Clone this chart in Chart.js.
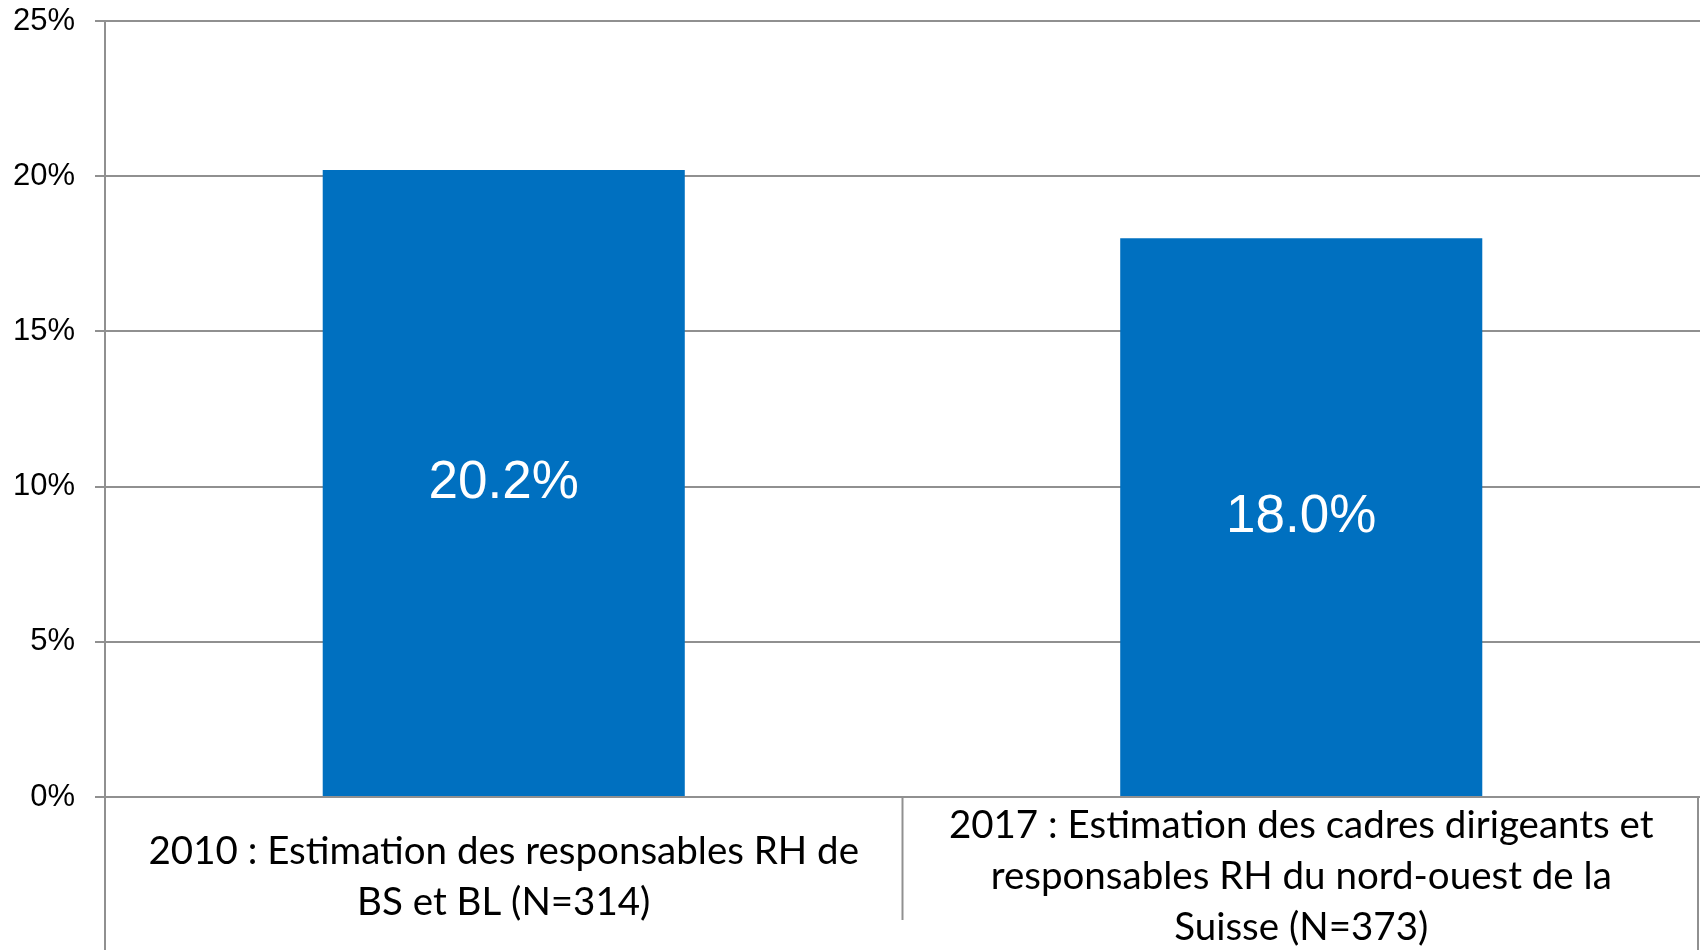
<!DOCTYPE html>
<html>
<head>
<meta charset="utf-8">
<script src="https://cdn.jsdelivr.net/npm/chart.js@4/dist/chart.umd.min.js"></script>
<style>
  html, body { margin: 0; padding: 0; background: #ffffff; }
  #wrap { width: 1700px; height: 950px; }
</style>
</head>
<body>
<div id="wrap"><canvas id="c" width="1700" height="950"></canvas></div>
<script>
const categories = [
  ["2010 : Estimation des responsables RH de", "BS et BL (N=314)"],
  ["2017 : Estimation des cadres dirigeants et", "responsables RH du nord-ouest de la", "Suisse (N=373)"]
];
const values = [20.2, 18.0];
const yTicks = [0, 5, 10, 15, 20, 25];

const GRID = '#909090';

const valueLabels = {
  id: 'valueLabels',
  afterDatasetsDraw(chart) {
    const ctx = chart.ctx;
    const meta = chart.getDatasetMeta(0);
    ctx.save();
    ctx.fillStyle = '#ffffff';
    ctx.font = '53px "Liberation Sans", Arial, sans-serif';
    ctx.textAlign = 'center';
    ctx.textBaseline = 'middle';
    meta.data.forEach((bar, i) => {
      const v = chart.data.datasets[0].data[i];
      ctx.fillText(v.toFixed(1) + '%', bar.x, (bar.y + bar.base) / 2);
    });
    ctx.restore();
  }
};

const tableLines = {
  id: 'tableLines',
  afterDraw(chart) {
    const ctx = chart.ctx;
    const x = chart.scales.x;
    const n = chart.data.labels.length;
    const top = chart.chartArea.bottom;
    const bottom = chart.height;
    ctx.save();
    ctx.strokeStyle = GRID;
    ctx.lineWidth = 2;
    ctx.beginPath();
    ctx.moveTo(x.left, top);
    ctx.lineTo(x.left, bottom);
    ctx.stroke();
    for (let i = 0; i < n - 1; i++) {
      const px = (x.getPixelForValue(i) + x.getPixelForValue(i + 1)) / 2;
      ctx.beginPath();
      ctx.moveTo(px, top);
      ctx.lineTo(px, bottom - 30);
      ctx.stroke();
    }
    ctx.beginPath();
    ctx.moveTo(x.right - 2, top);
    ctx.lineTo(x.right - 2, bottom);
    ctx.stroke();
    ctx.restore();
  }
};

new Chart(document.getElementById('c'), {
  type: 'bar',
  data: {
    labels: categories,
    datasets: [{
      data: values,
      backgroundColor: '#0070C0',
      borderWidth: 0,
      categoryPercentage: 1,
      barPercentage: 0.454
    }]
  },
  options: {
    responsive: false,
    animation: false,
    layout: { padding: { top: 21, right: 0, left: 0, bottom: 0 } },
    plugins: { legend: { display: false }, tooltip: { enabled: false } },
    scales: {
      x: {
        offset: true,
        grid: { display: false, drawOnChartArea: false, drawTicks: false },
        border: { display: true, color: GRID, width: 2 },
        ticks: {
          autoSkip: false,
          maxRotation: 0,
          minRotation: 0,
          crossAlign: 'center',
          padding: 29,
          color: '#000000',
          font: { family: 'Lato, "Open Sans", sans-serif', size: 38.5, lineHeight: 51 / 38.5 }
        },
        afterFit(s) { s.height = 153; s.paddingLeft = 0; s.paddingRight = 0; }
      },
      y: {
        min: 0,
        max: 25,
        afterBuildTicks(s) { s.ticks = yTicks.map(v => ({ value: v })); },
        grid: { color: GRID, lineWidth: 2, drawTicks: true, tickLength: 10 },
        border: { display: true, color: GRID, width: 2 },
        ticks: {
          padding: 20,
          color: '#000000',
          font: { family: '"Liberation Sans", Arial, sans-serif', size: 31 },
          callback: v => v + '%'
        },
        afterFit(s) { s.width = 105; s.paddingTop = 0; s.paddingBottom = 0; }
      }
    }
  },
  plugins: [valueLabels, tableLines]
});
</script>
</body>
</html>
